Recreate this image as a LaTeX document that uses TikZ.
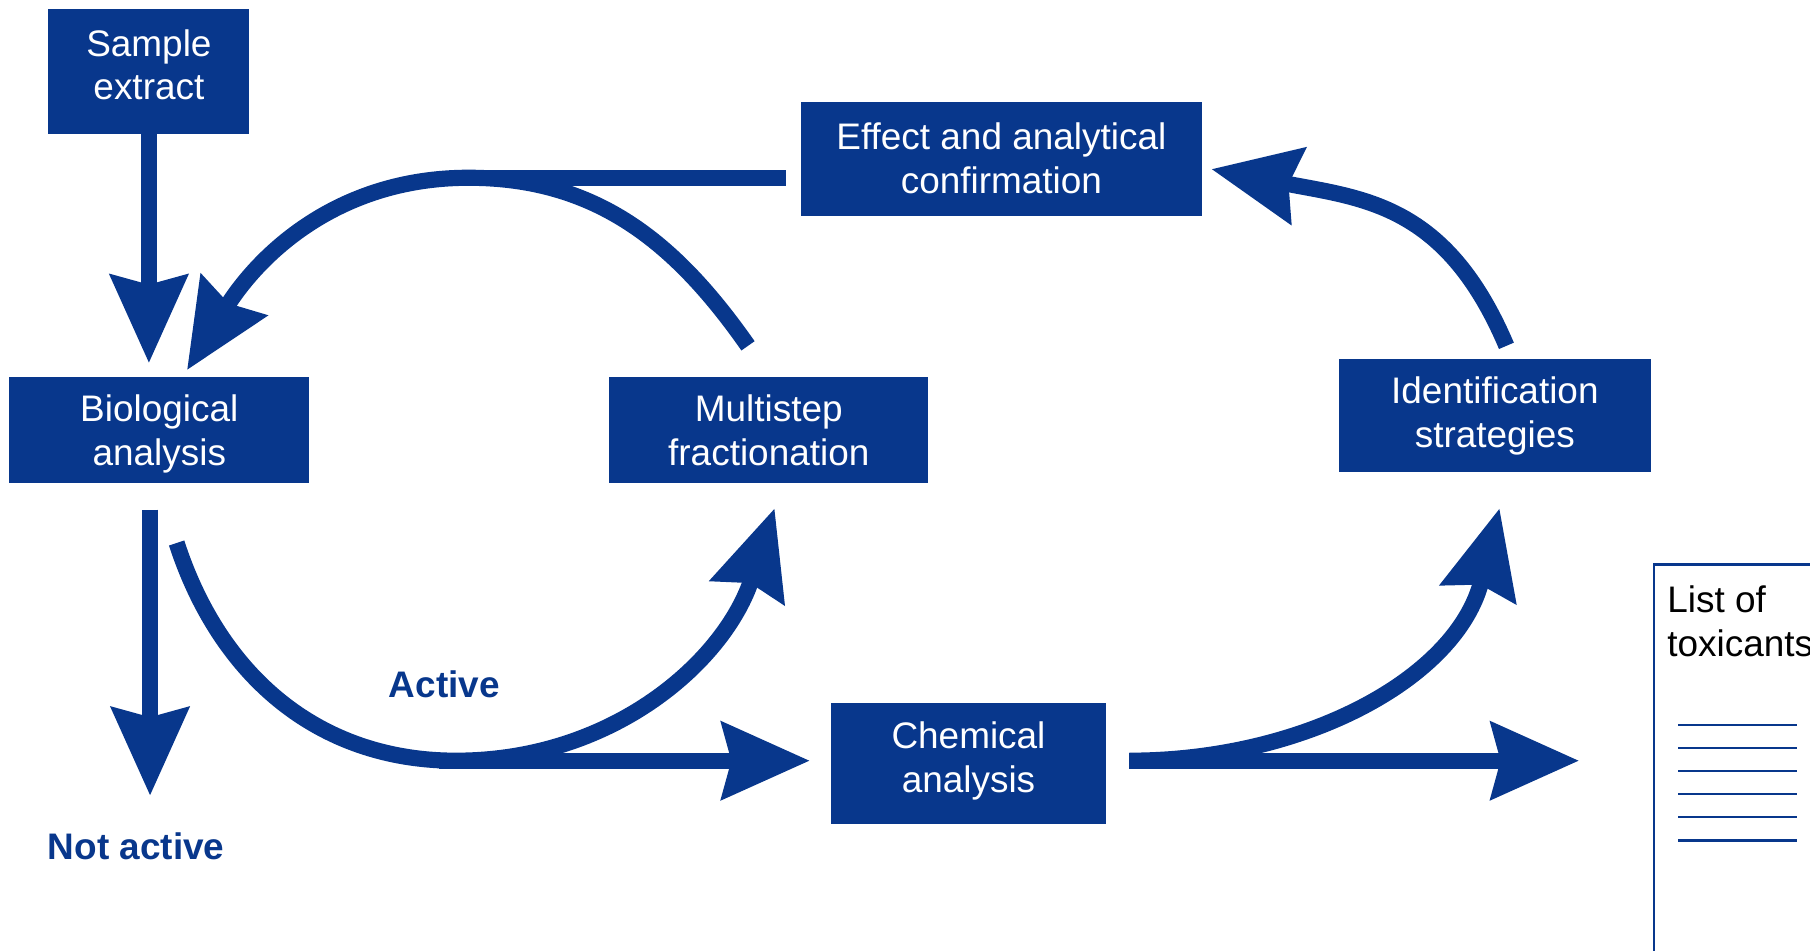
\documentclass[tikz,border=0pt]{standalone}
\usepackage{fontspec}
\setmainfont{Liberation Sans}
\usetikzlibrary{arrows.meta}
\definecolor{cblue}{HTML}{08378C}

\begin{document}
\begin{tikzpicture}[x=0.5pt,y=0.5pt,
  procbox/.style={fill=cblue,text=white,align=center,inner sep=0pt,font=\fontsize{16pt}{19pt}\selectfont},
  flow/.style={draw=cblue,line width=7pt},
  arr/.style={flow,-{Stealth[length=38pt,width=33pt,inset=4pt]}},
  tag/.style={text=cblue,inner sep=0pt,font=\fontsize{16pt}{19pt}\selectfont\bfseries},
  listline/.style={draw=cblue,line width=1pt}]
\useasboundingbox (0,0) rectangle (1568,-823);

\node[procbox,minimum width=87pt,minimum height=54pt,text depth=6pt] (sample) at (129,-62) {Sample\\extract};
\node[procbox,minimum width=173.5pt,minimum height=49.5pt] (effect) at (867.5,-137.5) {Effect and analytical\\confirmation};
\node[procbox,minimum width=130pt,minimum height=45.5pt,text depth=0pt] (bio) at (138,-372.5) {Biological\\analysis};
\node[procbox,minimum width=138pt,minimum height=45.5pt] (multi) at (666,-372.5) {Multistep\\fractionation};
\node[procbox,minimum width=135pt,minimum height=49pt] (ident) at (1295,-360) {Identification\\strategies};
\node[procbox,minimum width=119pt,minimum height=52.5pt,text depth=5.4pt] (chem) at (839,-661.5) {Chemical\\analysis};
\node[draw=cblue,line width=1pt,anchor=north west,minimum width=100pt,minimum height=200pt] (list) at (1432,-488) {};
\node[anchor=north west,align=left,inner sep=0pt,font=\fontsize{16pt}{19pt}\selectfont] (listtitle)
  at ([shift={(6pt,-9.5pt)}]list.north west) {List of\\toxicants};
\coordinate (listrow) at ([shift={(11pt,-70pt)}]list.north west);
\foreach \k in {0,...,5}
  \draw[listline] ([yshift=-\k*10pt]listrow) -- ++(51.5pt,0pt);

\node[tag] (active) at (385,-593) {Active};
\node[tag] (notactive) at (118,-733.5) {Not active};

\coordinate (looptop) at (406,-154);
\coordinate (ubottom) at (395,-659);

\draw[arr,shorten >=6pt] (sample) -- (sample |- bio.north);
\draw[flow] ([shift={(-6.5pt,-8.25pt)}]effect.west) -- ([xshift=4pt]looptop);
\draw[arr] ([shift={(-9pt,13.5pt)}]multi.north) to[out=125,in=0] (looptop)
  to[out=180,in=58] ([shift={(12pt,3pt)}]bio.north);
\draw[arr,shorten <=11.5pt,shorten >=16pt] ([xshift=-4pt]bio.south) -- ([xshift=-4pt]bio.south |- notactive.north);
\draw[arr] ([shift={(7.5pt,-26pt)}]bio.south) to[out=-72,in=180] (ubottom)
  to[out=0,in=252] ([shift={(2.5pt,-11pt)}]multi.south);
\draw[arr,shorten >=9pt] ([xshift=-7.5pt]ubottom) -- ([yshift=1.25pt]chem.west);
\draw[arr,shorten >=32pt] ([shift={(10pt,1.25pt)}]chem.east) -- ([yshift=1.25pt]chem.east -| list.west);
\draw[arr] ([shift={(10pt,1.25pt)}]chem.east) to[out=0,in=256] ([shift={(2pt,-15.5pt)}]ident.south);
\draw[arr] ([shift={(5pt,5.5pt)}]ident.north) to[out=113,in=-11,looseness=1.15] ([shift={(4pt,-4.5pt)}]effect.east);
\end{tikzpicture}
\end{document}
